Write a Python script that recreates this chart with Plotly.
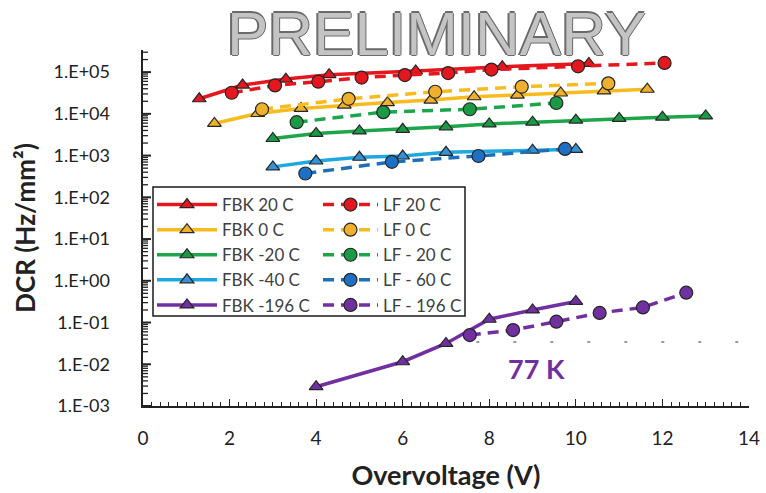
import plotly.graph_objects as go

# ---------------- data ----------------
fbk20_x = [1.3, 2.3, 3.3, 4.3, 6.3, 8.3, 10.3]
fbk20_y = [2.3e4, 4.9e4, 6.8e4, 8.7e4, 1.07e5, 1.35e5, 1.62e5]
lf20_x = [2.05, 3.05, 4.05, 5.05, 6.05, 7.05, 8.05, 10.05, 12.05]
lf20_y = [3.2e4, 4.8e4, 5.9e4, 7.4e4, 8.5e4, 9.5e4, 1.15e5, 1.38e5, 1.66e5]

fbk0_x = [1.65, 2.65, 3.65, 4.65, 5.65, 6.65, 7.65, 8.65, 9.65, 10.65, 11.65]
fbk0_y = [5.9e3, 1.02e4, 1.35e4, 1.62e4, 1.86e4, 2.14e4, 2.57e4, 2.82e4, 3.16e4, 3.55e4, 3.89e4]
lf0_x = [2.75, 4.75, 6.75, 8.75, 10.75]
lf0_y = [1.29e4, 2.29e4, 3.39e4, 4.47e4, 5.37e4]

fbkm20_x = [3, 4, 5, 6, 7, 8, 9, 10, 11, 12, 13]
fbkm20_y = [2570, 3390, 3890, 4270, 4900, 5750, 6310, 7080, 7760, 8320, 8910]
lfm20_x = [3.55, 5.55, 7.55, 9.55]
lfm20_y = [6310, 1.1e4, 1.29e4, 1.82e4]

fbkm40_x = [3, 4, 5, 6, 7, 9, 10]
fbkm40_y = [537, 741, 912, 977, 1200, 1350, 1410]
lfm60_x = [3.75, 5.75, 7.75, 9.75]
lfm60_y = [372, 708, 977, 1445]

fbkm196_x = [4, 6, 7, 8, 9, 10]
fbkm196_y = [0.0029, 0.0115, 0.0316, 0.12, 0.2, 0.32]
lfm196_x = [7.55, 8.55, 9.55, 10.55, 11.55, 12.55]
lfm196_y = [0.05, 0.066, 0.105, 0.17, 0.23, 0.52]

ytick_vals = [1e-3, 1e-2, 1e-1, 1e0, 1e1, 1e2, 1e3, 1e4, 1e5]
ytick_text = ["1.E-03", "1.E-02", "1.E-01", "1.E+00", "1.E+01", "1.E+02", "1.E+03", "1.E+04", "1.E+05"]
# minor log tick positions (2..9 x each decade)
yminor_vals = [m * 10.0 ** k for k in range(-3, 6) for m in range(2, 10) if m * 10.0 ** k < 3.3e5]

# ---------------- figure ----------------
FONT = "Lato, 'Open Sans', Arial, sans-serif"
DASH = "11px,7px"
fig = go.Figure()

L, R, T, B = 143, 749, 50, 406
XR = [0, 14]
def px_x(p): return (p - L) / (R - L)
def px_y(p): return (B - p) / (B - T)
def px_len(n): return n * (XR[1] - XR[0]) / (R - L)

# y-axis tick marks (inside) drawn as short segments through the axis scales
def tick_segments(vals, length):
    xs, ys = [], []
    for v in vals:
        xs += [XR[0], XR[0] + px_len(length), None]
        ys += [v, v, None]
    return xs, ys

mx, my = tick_segments(ytick_vals, 8)
fig.add_trace(go.Scatter(x=mx, y=my, mode="lines", line=dict(color="#222", width=2),
                         showlegend=False, hoverinfo="skip", cliponaxis=False))
nx, ny = tick_segments(yminor_vals, 5)
fig.add_trace(go.Scatter(x=nx, y=ny, mode="lines", line=dict(color="#222", width=1.3),
                         showlegend=False, hoverinfo="skip", cliponaxis=False))

def fbk(name, x, y, line_col, fill_col):
    fig.add_trace(go.Scatter(
        x=x, y=y, name=name, mode="lines+markers", legend="legend", legendgroup=name,
        line=dict(color=line_col, width=3.5),
        marker=dict(symbol="triangle-up", size=12, color=fill_col,
                    line=dict(color="#262626", width=1.2))))

def lf(name, x, y, line_col, fill_col):
    fig.add_trace(go.Scatter(
        x=x, y=y, name=name, mode="lines+markers", legend="legend2", legendgroup=name,
        line=dict(color=line_col, width=3.5, dash=DASH),
        marker=dict(symbol="circle", size=13, color=fill_col,
                    line=dict(color="#262626", width=1.2))))

fbk("FBK 20 C", fbk20_x, fbk20_y, "#e3171d", "#e3171d")
fbk("FBK 0 C", fbk0_x, fbk0_y, "#f6bb1e", "#efb02e")
fbk("FBK -20 C", fbkm20_x, fbkm20_y, "#1ea54c", "#1a9a45")
fbk("FBK -40 C", fbkm40_x, fbkm40_y, "#1fa8df", "#3590d4")
fbk("FBK -196 C", fbkm196_x, fbkm196_y, "#7030a0", "#7030a0")

lf("LF 20 C", lf20_x, lf20_y, "#e3171d", "#e3171d")
lf("LF 0 C", lf0_x, lf0_y, "#f6bb1e", "#efb02e")
lf("LF - 20 C", lfm20_x, lfm20_y, "#1ea54c", "#1a9a45")
lf("LF - 60 C", lfm60_x, lfm60_y, "#1f6fb8", "#1f6fc4")
lf("LF - 196 C", lfm196_x, lfm196_y, "#7030a0", "#7030a0")

# faint dashed marker line near 77 K
fig.add_shape(type="line", xref="x", yref="y", x0=7.7, x1=14.3, y0=0.034, y1=0.034,
              line=dict(color="rgba(70,70,90,0.55)", width=2, dash="3px,34px"))

# legend box
fig.add_shape(type="rect", xref="paper", yref="paper",
              x0=px_x(153), x1=px_x(465), y0=px_y(187), y1=px_y(316),
              line=dict(color="#1a1a1a", width=1.5), fillcolor="white", layer="below")

fig.add_annotation(x=9.1, y=-2.09, xref="x", yref="y", text="<b>77 K</b>", showarrow=False,
                   font=dict(family=FONT, size=27, color="#7030a0"))

# PRELIMINARY watermark (outlined look)
WM_FONT = "'Liberation Sans', Arial, sans-serif"
for dx, dy in [(-1.5, 0), (1.5, 0), (0, -1.5), (0, 1.5)]:
    fig.add_annotation(x=px_x(436), y=px_y(33), xref="paper", yref="paper", text="PRELIMINARY",
                       showarrow=False, xshift=dx, yshift=dy, xanchor="center", yanchor="middle",
                       font=dict(family=WM_FONT, size=62, color="#6a6a6a"))
fig.add_annotation(x=px_x(436), y=px_y(33), xref="paper", yref="paper", text="PRELIMINARY",
                   showarrow=False, xanchor="center", yanchor="middle",
                   font=dict(family=WM_FONT, size=62, color="#c4c4c4"))

YRANGE = [-3, 5.53]
fig.update_layout(
    width=766, height=493,
    margin=dict(l=L, r=766 - R, t=T, b=493 - B, autoexpand=False),
    paper_bgcolor="white", plot_bgcolor="white",
    font=dict(family=FONT, color="#222222"),
    legend=dict(x=px_x(152), y=px_y(187), xanchor="left", yanchor="top",
                bgcolor="rgba(0,0,0,0)", itemwidth=60, tracegroupgap=0,
                font=dict(family=FONT, size=17, color="#404040")),
    legend2=dict(x=px_x(318), y=px_y(187), xanchor="left", yanchor="top",
                 bgcolor="rgba(0,0,0,0)", itemwidth=55, tracegroupgap=0,
                 font=dict(family=FONT, size=17, color="#404040")),
    xaxis=dict(range=XR, tickmode="linear", tick0=0, dtick=2,
               ticks="inside", ticklen=7, tickwidth=1.3,
               tickcolor="#222", showline=True, linecolor="#222", linewidth=1.5,
               showgrid=False, zeroline=False, ticklabelstandoff=14, automargin=False,
               tickfont=dict(family=FONT, size=19, color="#222"),
               minor=dict(dtick=0.2, tick0=0, ticks="inside", ticklen=4, tickcolor="#222", showgrid=False),
               title=dict(text="<b>Overvoltage (V)</b>", standoff=19,
                          font=dict(family=FONT, size=27, color="#222"))),
    yaxis=dict(type="log", range=YRANGE, tickmode="array", tickvals=ytick_vals,
               ticktext=[t + "      " for t in ytick_text], ticks="",
               showline=True, linecolor="#222", linewidth=1.5, showgrid=False, zeroline=False,
               automargin=False,
               tickfont=dict(family=FONT, size=18, color="#222"),
               title=dict(text="<b>DCR (Hz/mm²)</b>", standoff=10,
                          font=dict(family=FONT, size=26, color="#222"))),
)

fig.write_html("out.html", post_script="document.body.style.margin='0px';",
               config={"displayModeBar": False})
